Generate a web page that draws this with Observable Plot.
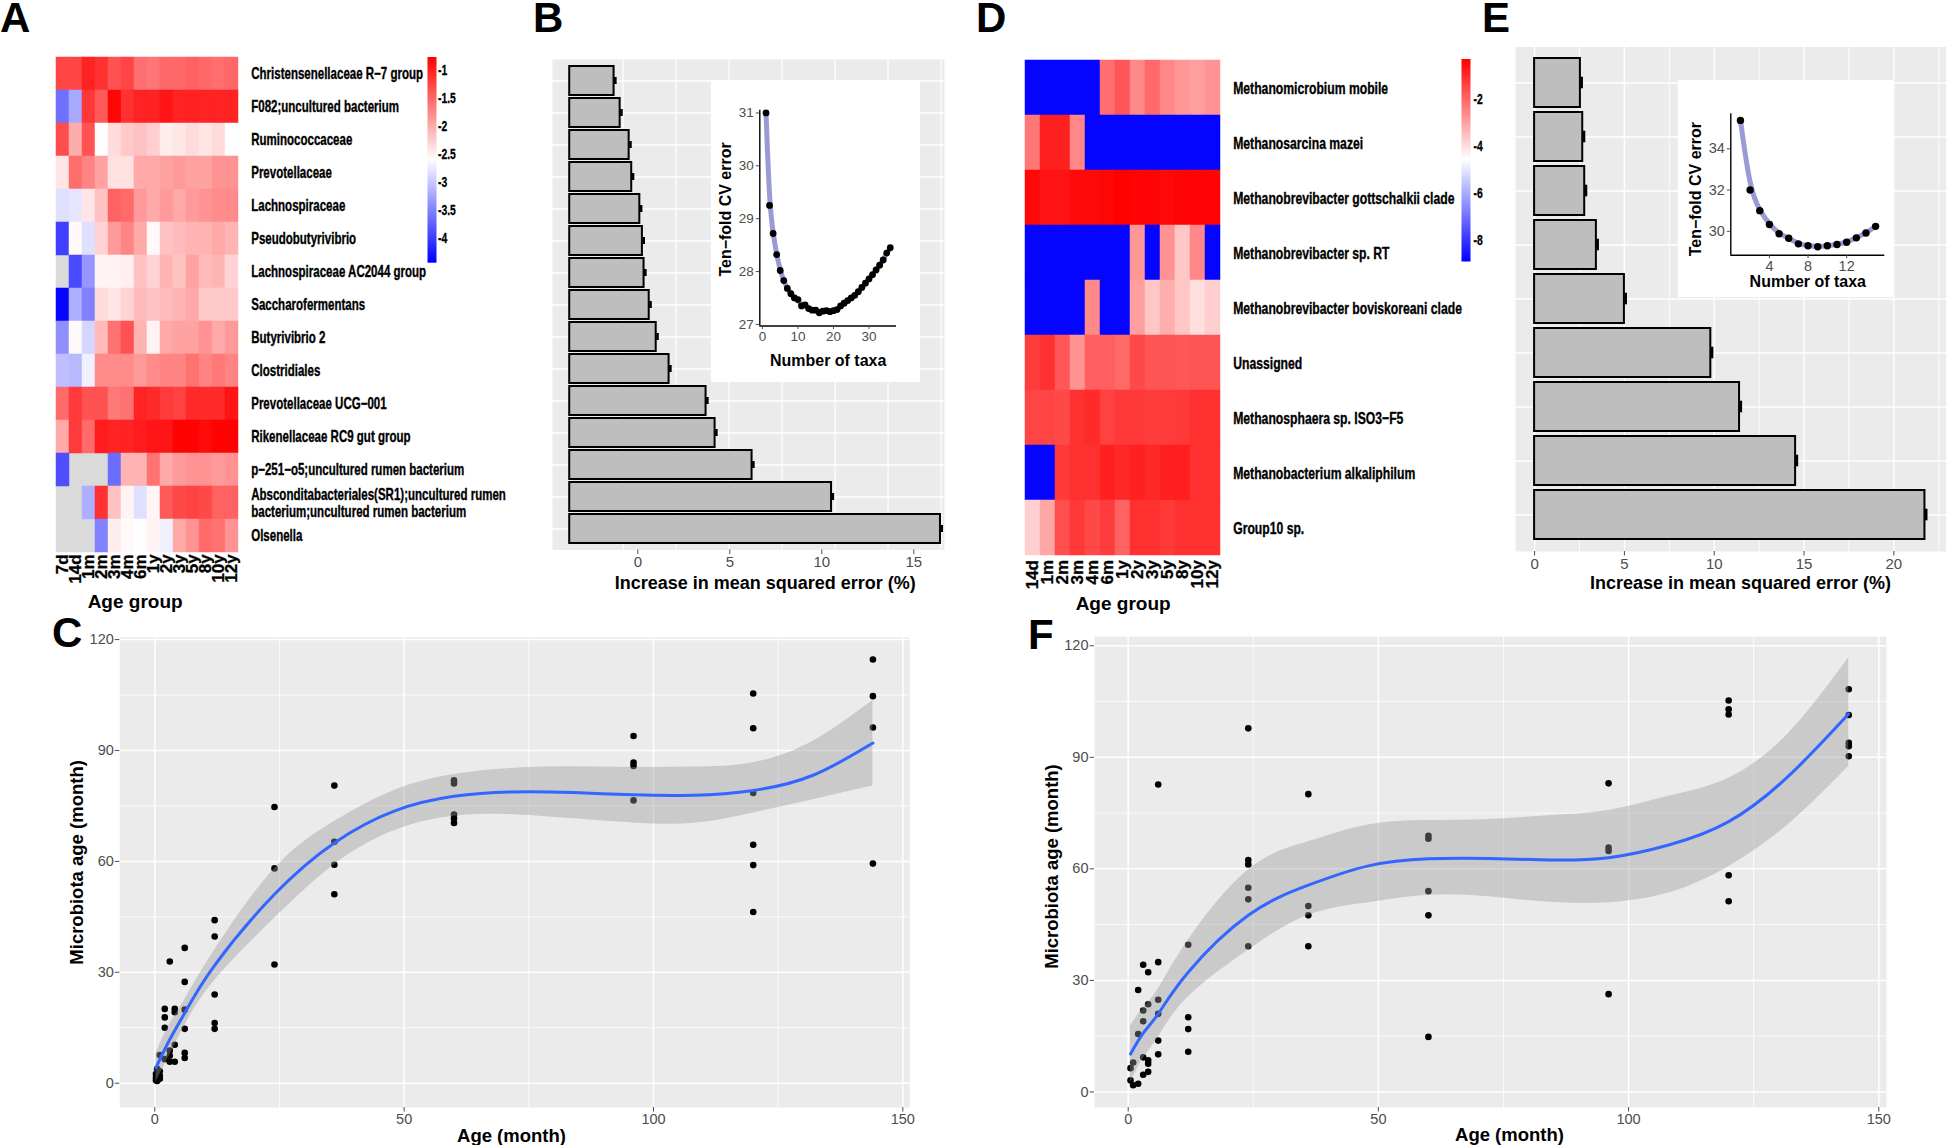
<!DOCTYPE html>
<html><head><meta charset="utf-8">
<script src="https://cdn.jsdelivr.net/npm/d3@7"></script>
<script src="https://cdn.jsdelivr.net/npm/@observablehq/plot@0.6"></script>
<style>
html,body{margin:0;padding:0;background:#fff;}
#fig{position:relative;width:1946px;height:1145px;overflow:hidden;background:#fff;}
#fig svg{position:absolute;}
</style></head><body><div id="fig"></div>
<script>
// ---------------- DATA ----------------
const agesA = ["7d","14d","1m","2m","3m","4m","6m","1y","2y","3y","5y","8y","10y","12y"];
const taxaA = ["Christensenellaceae R−7 group","F082;uncultured bacterium","Ruminococcaceae","Prevotellaceae","Lachnospiraceae","Pseudobutyrivibrio","Lachnospiraceae AC2044 group","Saccharofermentans","Butyrivibrio 2","Clostridiales","Prevotellaceae UCG−001","Rikenellaceae RC9 gut group","p−251−o5;uncultured rumen bacterium","Absconditabacteriales(SR1);uncultured rumen\nbacterium;uncultured rumen bacterium","Olsenella"];
const heatA = [
 [-1.25,-1.25,-1.0,-1.1,-1.35,-1.25,-1.55,-1.6,-1.5,-1.5,-1.45,-1.5,-1.55,-1.5],
 [-3.62,-3.22,-1.15,-1.4,-0.8,-1.1,-1.0,-1.0,-0.9,-1.0,-1.0,-1.0,-1.0,-1.0],
 [-1.3,-1.99,-1.35,-2.6,-2.33,-2.2,-2.15,-2.24,-2.45,-2.42,-2.33,-2.4,-2.33,-2.6],
 [-2.4,-1.53,-1.7,-1.92,-2.37,-2.37,-1.97,-1.97,-1.92,-1.86,-1.92,-1.92,-1.8,-1.8],
 [-2.82,-2.78,-2.4,-2.15,-1.46,-1.52,-1.86,-1.97,-1.86,-1.97,-1.86,-1.8,-1.75,-1.75],
 [-3.97,-2.55,-2.82,-2.27,-1.86,-1.7,-1.97,-2.55,-2.15,-2.1,-2.05,-2.05,-1.97,-2.05],
 [null,-3.9,-3.35,-2.5,-2.5,-2.47,-2.15,-2.27,-2.05,-2.15,-1.92,-2.1,-2.05,-2.27],
 [-4.4,-3.17,-3.5,-2.33,-2.4,-2.27,-2.1,-2.15,-2.1,-2.05,-1.97,-2.2,-2.2,-2.2],
 [-3.4,-2.55,-2.89,-2.1,-1.57,-1.34,-2.05,-2.5,-1.97,-1.92,-1.92,-1.8,-1.97,-1.86],
 [-3.05,-3.1,-2.7,-1.75,-1.75,-1.75,-1.86,-1.75,-1.7,-1.7,-1.57,-1.7,-1.62,-1.7],
 [-1.52,-1.17,-1.34,-1.34,-1.62,-1.57,-1.0,-1.05,-1.17,-1.23,-1.05,-1.05,-1.05,-0.9],
 [-1.97,-1.17,-1.52,-0.95,-1.0,-1.0,-0.95,-0.9,-0.9,-0.77,-0.77,-0.83,-0.77,-0.77],
 [-3.86,null,null,null,-3.65,-2.05,-2.05,-1.57,-1.97,-1.86,-1.8,-1.8,-1.86,-1.8],
 [null,null,-3.17,-1.1,-2.15,-2.5,-2.82,-2.52,-1.4,-1.28,-1.23,-1.28,-1.46,-1.46],
 [null,null,null,-3.5,-2.45,-2.55,-2.6,-2.5,-2.7,-1.97,-1.8,-1.52,-1.57,-1.8]
];
const colorDomainA = [-4.43, -2.59, -0.75];
const colorTicksA = [-4, -3.5, -3, -2.5, -2, -1.5, -1];

const agesD = ["14d","1m","2m","3m","4m","6m","1y","2y","3y","5y","8y","10y","12y"];
const taxaD = ["Methanomicrobium mobile","Methanosarcina mazei","Methanobrevibacter gottschalkii clade","Methanobrevibacter sp. RT","Methanobrevibacter boviskoreani clade","Unassigned","Methanosphaera sp. ISO3−F5","Methanobacterium alkaliphilum","Group10 sp."];
const heatD = [
 [-8.8,-8.8,-8.8,-8.8,-8.8,-2.15,-1.75,-2.57,-2.05,-2.54,-2.82,-2.93,-2.74],
 [-2.27,-0.83,-0.83,-2.54,-8.8,-8.8,-8.8,-8.8,-8.8,-8.8,-8.8,-8.8,-8.8],
 [-0.43,-0.6,-0.6,-0.45,-0.45,-0.4,-0.3,-0.35,-0.35,-0.43,-0.35,-0.35,-0.35],
 [-8.8,-8.8,-8.8,-8.8,-8.8,-8.8,-8.8,-2.82,-8.8,-2.74,-3.6,-2.54,-8.8],
 [-8.8,-8.8,-8.8,-8.8,-2.57,-8.8,-8.8,-2.93,-3.6,-3.2,-3.6,-4.0,-3.74],
 [-1.29,-1.1,-1.75,-2.74,-1.87,-1.87,-2.05,-1.49,-1.7,-1.7,-1.75,-1.7,-1.7],
 [-1.42,-1.42,-1.49,-1.1,-1.0,-1.37,-1.23,-1.23,-1.29,-1.29,-1.23,-1.1,-1.1],
 [-8.8,-8.8,-1.23,-1.1,-1.1,-0.83,-0.95,-0.83,-0.95,-0.8,-0.8,-1.1,-1.1],
 [-3.74,-3.07,-1.6,-1.23,-1.49,-1.29,-1.93,-1.1,-1.1,-1.23,-1.1,-1.1,-1.1]
];
const colorDomainD = [-8.87, -4.55, -0.29];
const colorTicksD = [-8, -6, -4, -2];

// B: importance bars (top to bottom), error bars, bar start, grid
const bImportance = [-1.29,-0.96,-0.47,-0.33,0.11,0.25,0.34,0.62,1.0,1.70,3.71,4.20,6.21,10.53,16.45];
const bError = [0.07,0.07,0.07,0.07,0.07,0.07,0.07,0.07,0.07,0.07,0.07,0.07,0.07,0.07,0.07];
const bBase = -3.7;
const bTicks = [0, 5, 10, 15];
const bGrid = [-0.8, 2.08, 4.96, 7.84, 10.72, 13.6, 16.48];
// B inset: CV error vs number of taxa
const cvBTaxa = [1,2,3,4,5,6,7,8,9,10,11,12,13,14,15,16,17,18,19,20,21,22,23,24,25,26,27,28,29,30,31,32,33,34,35,36];
const cvBError = [31.0,29.25,28.72,28.32,28.02,27.83,27.68,27.58,27.5,27.47,27.35,27.37,27.3,27.27,27.27,27.22,27.25,27.26,27.24,27.26,27.28,27.35,27.4,27.45,27.5,27.55,27.62,27.7,27.78,27.86,27.94,28.03,28.12,28.22,28.35,28.45];

// E
const eImportance = [2.55,2.68,2.79,3.44,5.0,9.81,11.41,14.53,21.73];
const eError = [0.07,0.07,0.07,0.07,0.07,0.07,0.07,0.07,0.07];
const eBase = 0;
const eTicks = [0, 5, 10, 15, 20];
const eMinor = [2.5, 7.5, 12.5, 17.5, 22.5];
const cvETaxa = [1,2,3,4,5,6,7,8,9,10,11,12,13,14,15];
const cvEError = [35.38,32.0,31.0,30.33,29.88,29.66,29.39,29.3,29.25,29.3,29.36,29.47,29.68,29.92,30.24];

// C: age vs microbiota age
const cAge = [0.23,0.23,0.23,0.47,0.47,0.47,1,1,1,1, 2,2,2,2, 3,3,3,3, 4,4,4,4, 6,6,6,6,6,6, 12,12,12,12,12, 24,24,24, 36,36,36,36, 60,60,60,60,60, 96,96,96,96, 120,120,120,120,120,120, 144,144,144,144];
const cMicro = [0.8,1.5,2.5, 0.6,1.8,3.9, 1.2,2.0,3.2,7.6, 20.1,17.8,15.0,6.5, 32.9,8.8,7.4,5.8, 20.1,19.2,10.4,5.8, 36.6,27.4,19.9,14.7,8.2,6.8, 44.1,39.7,24.0,16.3,14.7, 74.7,58.1,32.1, 80.5,65.3,59.1,51.1, 81.9,81.1,72.7,71.6,70.4, 93.9,86.7,85.8,76.5, 105.4,96.0,78.5,64.5,59.0,46.3, 114.6,104.7,96.2,59.4];
const cFitAge = [0.23,3,6,12,24,36,48,60,72,84,96,108,120,132,144];
const cFit  = [4.2,11.8,19.0,31.9,51.1,65.0,73.6,77.6,78.8,78.6,78.0,77.9,79.2,83.3,92.0];
const cLow  = [0.3,7.6,15.6,27.8,44.6,59.1,68.3,72.2,72.6,71.5,70.4,70.3,73.1,76.7,80.4];
const cHigh = [8.1,16.0,22.6,36.0,58.0,70.8,79.2,83.5,85.2,85.6,85.4,85.5,86.7,92.5,103.5];

// F
const fAge = [0.47,0.47, 1,1, 2,2,2, 3,3,3,3,3, 4,4,4,4,4, 6,6,6,6,6,6, 12,12,12,12, 24,24,24,24,24,24, 36,36,36,36, 60,60,60,60,60, 96,96,96,96, 120,120,120,120,120, 144,144,144,144,144];
const fMicro = [6.4,3.1, 7.9,1.8, 27.4,15.6,2.2, 34.2,21.9,19.0,9.3,4.6, 32.2,23.6,8.5,7.6,5.4, 82.7,34.9,24.8,21.0,13.8,10.1, 39.6,20.1,16.9,10.8, 97.8,62.4,61.2,54.9,51.8,39.2, 80.1,50.0,47.5,39.2, 68.9,68.1,54.0,47.5,14.8, 83.0,65.7,64.8,26.3, 105.3,102.9,101.5,58.3,51.3, 108.3,101.4,93.9,93.0,90.3];
const fFitAge = [0.47,3,6,12,24,36,48,60,72,84,96,108,120,132,144];
const fFit  = [10.2,15.8,21.0,32.2,47.5,55.6,60.8,62.7,62.8,62.4,63.0,66.4,72.7,85.0,101.7];
const fLow  = [2.6,9.0,14.7,25.5,38.1,47.5,50.9,52.9,52.5,51.0,50.9,53.5,60.6,72.0,87.6];
const fHigh = [17.8,22.6,27.7,40.8,59.7,67.3,71.8,73.0,73.3,74.3,75.7,79.5,84.4,96.5,116.8];

const ageTicks = [0, 50, 100, 150];
const ageMinor = [25, 75, 125];
const microTicks = [0, 30, 60, 90, 120];
const microMinor = [15, 45, 75, 105];

// ---------------- RENDER ----------------
const SANS = '"Liberation Sans", Arial, Helvetica, sans-serif';
const FIG = document.getElementById("fig");
function place(el, left, top) { el.style.left = left + "px"; el.style.top = top + "px"; FIG.appendChild(el); return el; }
function colorOpts(domain) { return {type: "linear", domain, range: ["#0000ff", "#ffffff", "#ff0000"], interpolate: "rgb", clamp: true}; }
const baseStyle = {background: "transparent", fontFamily: SANS, overflow: "visible"};
const fmt = d => String(d);
// horizontally condense the y-axis labels (Helvetica-Narrow-like look; no narrow font installed)
function condense(svg, s) {
  svg.querySelectorAll('g[aria-label="y-axis tick label"] text').forEach(t => {
    const x = +(t.getAttribute("x") || 0);
    const tr = t.getAttribute("transform") || "";
    t.setAttribute("transform", `${tr} translate(${x},0) scale(${s},1) translate(${-x},0)`);
  });
  return svg;
}

function heatPlot(o) {
  const cells = [];
  o.taxa.forEach((t, i) => o.ages.forEach((a, j) => cells.push({taxon: t, age: a, v: o.values[i][j]})));
  return condense(Plot.plot({
    width: o.w, height: o.h, marginLeft: o.ml, marginRight: o.mr, marginTop: o.mt, marginBottom: o.mb,
    style: baseStyle,
    x: {type: "band", domain: o.ages, padding: 0},
    y: {type: "band", domain: o.taxa, padding: 0},
    color: colorOpts(o.colorDomain),
    marks: [
      Plot.cell(cells.filter(d => d.v == null), {x: "age", y: "taxon", fill: "#dadada", stroke: "#dadada", strokeWidth: 0.5, inset: 0}),
      Plot.cell(cells.filter(d => d.v != null), {x: "age", y: "taxon", fill: "v", stroke: "v", strokeWidth: 0.5, inset: 0}),
      Plot.axisX({tickRotate: -90, tickSize: 0, tickPadding: o.agePad, fontSize: 17, fontWeight: "bold", color: "#000", textStroke: "#000", textStrokeWidth: 0.3, label: null}),
      Plot.axisY({anchor: "right", tickSize: 0, tickPadding: o.taxPad, fontSize: o.labelSize, fontWeight: "bold", lineHeight: 1.03, color: "#000", textStroke: "#000", textStrokeWidth: 0.35, label: null}),
      Plot.text(["Age group"], {frameAnchor: "bottom", dx: o.titleDx, dy: o.titleDy, fontSize: 19, fontWeight: "bold", textAnchor: "middle", lineAnchor: "middle"})
    ]
  }), o.squeeze);
}
function colorbar(o) {
  const [lo, , hi] = o.colorDomain;
  return condense(Plot.plot({
    width: o.w, height: o.h, marginLeft: o.ml, marginRight: o.mr, marginTop: o.mt, marginBottom: o.mb,
    style: baseStyle,
    x: {domain: [0, 1], axis: null},
    y: {domain: [lo, hi], axis: null},
    color: colorOpts(o.colorDomain),
    marks: [
      Plot.raster({x1: 0, x2: 1, y1: lo, y2: hi, width: 1, height: 256, fill: (x, y) => y, imageRendering: "auto"}),
      Plot.axisY(o.ticks, {anchor: "right", tickSize: 0, tickPadding: o.pad, tickFormat: fmt, fontSize: 14, fontWeight: "bold", color: "#000", textStroke: "#000", textStrokeWidth: 0.3, label: null})
    ]
  }), 0.74);
}
function barPanel(o) {
  const data = o.values.map((v, i) => ({rank: i, value: v, err: o.errors[i], start: o.base}));
  return Plot.plot({
    width: o.w, height: o.h, marginLeft: o.ml, marginRight: o.mr, marginTop: o.mt, marginBottom: o.mb,
    style: baseStyle,
    x: {domain: o.xDomain},
    y: {type: "band", domain: data.map(d => d.rank), paddingInner: 0.1, paddingOuter: 0.15, axis: null},
    marks: [
      Plot.frame({fill: "#ebebeb", stroke: null}),
      Plot.ruleX(o.minor, {stroke: "#fff", strokeWidth: o.minorW}),
      Plot.ruleX(o.major, {stroke: "#fff", strokeWidth: 1.4}),
      Plot.gridY({stroke: "#fff", strokeOpacity: 1, strokeWidth: 1.4}),
      Plot.barX(data, {x1: "start", x2: "value", y: "rank", fill: "#bebebe", stroke: "#000", strokeWidth: 2}),
      Plot.tickX(data, {x: d => d.value + d.err, y: "rank", stroke: "#000", strokeWidth: 2.6, insetTop: o.errInset, insetBottom: o.errInset}),
      Plot.axisX({ticks: o.ticks, tickFormat: fmt, tickSize: 4.5, tickPadding: 2, fontSize: 15, color: "#4d4d4d", label: null}),
      Plot.text(["Increase in mean squared error (%)"], {frameAnchor: "bottom", dx: o.titleDx, dy: o.titleDy, fontSize: 18, fontWeight: "bold", textAnchor: "middle", lineAnchor: "middle"})
    ]
  });
}
function cvInset(o) {
  const pts = o.taxa.map((t, i) => ({t, e: o.err[i]}));
  return Plot.plot({
    width: o.w, height: o.h, marginLeft: o.ml, marginRight: o.mr, marginTop: o.mt, marginBottom: o.mb,
    style: {...baseStyle, background: "#fff"},
    x: {domain: o.xDomain}, y: {domain: o.yDomain},
    marks: [
      Plot.line(pts, {x: "t", y: "e", curve: "basis", stroke: "#9a9ad4", strokeWidth: 5}),
      Plot.dot(pts, {x: "t", y: "e", r: o.r, fill: "#000", stroke: null}),
      Plot.ruleX([o.xDomain[0]], {stroke: "#000", strokeWidth: 1.4}),
      Plot.ruleY([o.yDomain[0]], {stroke: "#000", strokeWidth: 1.4}),
      Plot.axisX({ticks: o.xTicks, tickFormat: fmt, tickSize: 3.5, tickPadding: 2, fontSize: o.fs, color: "#4d4d4d", label: null}),
      Plot.axisY({ticks: o.yTicks, tickFormat: fmt, tickSize: 3.5, tickPadding: 2.5, fontSize: o.fs, color: "#4d4d4d", label: null}),
      Plot.text(["Number of taxa"], {frameAnchor: "bottom", dx: o.xtDx, dy: o.xtDy, fontSize: 16, fontWeight: "bold", textAnchor: "middle", lineAnchor: "middle"}),
      Plot.text(["Ten−fold CV error"], {frameAnchor: "left", dx: o.ytDx, dy: o.ytDy, rotate: -90, fontSize: 16, fontWeight: "bold", textAnchor: "middle", lineAnchor: "middle"})
    ]
  });
}
function scatterPanel(o) {
  const pts = o.age.map((a, i) => ({a, m: o.micro[i]}));
  const fit = o.fitAge.map((a, i) => ({a, f: o.fit[i], lo: o.low[i], hi: o.high[i]}));
  return Plot.plot({
    width: o.w, height: o.h, marginLeft: o.ml, marginRight: o.mr, marginTop: o.mt, marginBottom: o.mb,
    style: baseStyle,
    x: {domain: o.xDomain}, y: {domain: o.yDomain},
    marks: [
      Plot.frame({fill: "#ebebeb", stroke: null}),
      Plot.ruleX(ageMinor, {stroke: "#fff", strokeWidth: 0.8}),
      Plot.ruleY(microMinor, {stroke: "#fff", strokeWidth: 0.8}),
      Plot.ruleX(ageTicks, {stroke: "#fff", strokeWidth: 1.5}),
      Plot.ruleY(microTicks, {stroke: "#fff", strokeWidth: 1.5}),
      Plot.dot(pts, {x: "a", y: "m", r: 3.3, fill: "#000", stroke: null}),
      Plot.areaY(fit, {x: "a", y1: "lo", y2: "hi", fill: "#999999", fillOpacity: 0.4, curve: "natural"}),
      Plot.line(fit, {x: "a", y: "f", stroke: "#3366ff", strokeWidth: 3, curve: "natural"}),
      Plot.axisX({ticks: ageTicks, tickFormat: fmt, tickSize: 4.5, tickPadding: 1.5, fontSize: 14.5, color: "#4d4d4d", label: null}),
      Plot.axisY({ticks: microTicks, tickFormat: fmt, tickSize: 4.5, tickPadding: 1.5, fontSize: 14.5, color: "#4d4d4d", label: null}),
      Plot.text(["Age (month)"], {frameAnchor: "bottom", dx: o.xtDx, dy: 28, fontSize: 18.5, fontWeight: "bold", textAnchor: "middle", lineAnchor: "middle"}),
      Plot.text(["Microbiota age (month)"], {frameAnchor: "left", dx: o.ytDx, dy: o.ytDy, rotate: -90, fontSize: 18.5, fontWeight: "bold", textAnchor: "middle", lineAnchor: "middle"})
    ]
  });
}

// Panel A
place(heatPlot({ages: agesA, taxa: taxaA, values: heatA, colorDomain: colorDomainA, labelSize: 16, squeeze: 0.72,
  w: 530, h: 620, ml: 49.3, mr: 286, mt: 56.5, mb: 67.6, agePad: 1.5, taxPad: 6.7, titleDx: -12, titleDy: 48.6}), 0, 0);
place(colorbar({colorDomain: colorDomainA, ticks: colorTicksA, w: 80, h: 280, ml: 27, mr: 44, mt: 56.5, mb: 17.8, pad: 1.5}), 400, 0);
// Panel D
place(heatPlot({ages: agesD, taxa: taxaD, values: heatD, colorDomain: colorDomainD, labelSize: 16.8, squeeze: 0.726,
  w: 460, h: 620, ml: 29.3, mr: 224, mt: 58.5, mb: 63.3, agePad: 2.8, taxPad: 6.7, titleDx: 0, titleDy: 46.3}), 990, 0);
place(colorbar({colorDomain: colorDomainD, ticks: colorTicksD, w: 60, h: 280, ml: 21, mr: 30, mt: 58.5, mb: 19, pad: 3}), 1440, 0);
// Panel B
place(barPanel({values: bImportance, errors: bError, base: bBase, xDomain: [-4.636, 16.668], ticks: bTicks, major: [], minor: bGrid, minorW: 1.2,
  w: 420, h: 560, ml: 22, mr: 6, mt: 19, mb: 50.5, errInset: 11, titleDx: 16.7, titleDy: 33.5}), 530, 40);
place(cvInset({taxa: cvBTaxa, err: cvBError, xDomain: [-0.75, 37.75], yDomain: [26.97, 31.05], xTicks: [0, 10, 20, 30], yTicks: [27, 28, 29, 30, 31],
  w: 209, h: 302.7, ml: 48.3, mr: 24, mt: 29.8, mb: 57.2, r: 3.4, fs: 13.5, xtDx: 0, xtDy: 35.1, ytDx: -34.3, ytDy: -8.7}), 711, 79.8);
// Panel E
place(barPanel({values: eImportance, errors: eError, base: eBase, xDomain: [-1.063, 22.93], ticks: eTicks, major: eTicks, minor: eMinor, minorW: 0.9,
  w: 446, h: 560, ml: 15, mr: 0, mt: 6.5, mb: 49, errInset: 18.7, titleDx: 9.5, titleDy: 32}), 1500, 40);
place(cvInset({taxa: cvETaxa, err: cvEError, xDomain: [0, 15.95], yDomain: [28.84, 35.7], xTicks: [4, 8, 12], yTicks: [30, 32, 34],
  w: 215.6, h: 217.5, ml: 52.3, mr: 9.3, mt: 33.3, mb: 42.8, r: 3.7, fs: 14.5, xtDx: 0, xtDy: 27, ytDx: -35, ytDy: 4.7}), 1677.7, 79.8);
// Panel C
place(scatterPanel({age: cAge, micro: cMicro, fitAge: cFitAge, fit: cFit, low: cLow, high: cHigh, xDomain: [-7.02, 151.4], yDomain: [-6.6, 120.64],
  w: 940, h: 545, ml: 119.3, mr: 30.7, mt: 36.7, mb: 37.9, xtDx: -3.3, ytDx: -42.6, ytDy: -10}), 0, 600);
// Panel F
place(scatterPanel({age: fAge, micro: fMicro, fitAge: fFitAge, fit: fFit, low: fLow, high: fHigh, xDomain: [-6.73, 151.54], yDomain: [-4.19, 122.5],
  w: 956, h: 545, ml: 104, mr: 60, mt: 36, mb: 38, xtDx: 19, ytDx: -42.3, ytDy: -5.5}), 990, 600);

// Panel letters
const letters = [["A", 0, 32], ["B", 533, 32], ["D", 976, 32], ["E", 1482, 32], ["C", 52, 647], ["F", 1028, 649]];
const ns = "http://www.w3.org/2000/svg";
const ov = document.createElementNS(ns, "svg");
ov.setAttribute("width", 1946); ov.setAttribute("height", 1145);
ov.style.left = "0px"; ov.style.top = "0px"; ov.style.pointerEvents = "none";
for (const [t, x, y] of letters) {
  const el = document.createElementNS(ns, "text");
  el.setAttribute("x", x); el.setAttribute("y", y);
  el.setAttribute("font-family", SANS); el.setAttribute("font-weight", "bold"); el.setAttribute("font-size", 42);
  el.textContent = t; ov.appendChild(el);
}
FIG.appendChild(ov);
</script></body></html>
